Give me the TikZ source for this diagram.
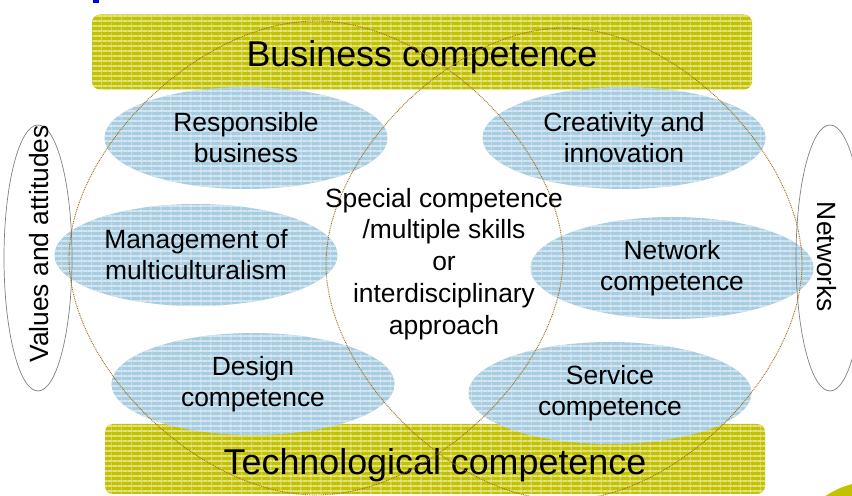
\documentclass[tikz,border=0pt]{standalone}
\usepackage{fontspec}
\setmainfont{Liberation Sans}
\usetikzlibrary{shapes.geometric,patterns.meta}
\definecolor{barolive}{RGB}{194,194,0}
\definecolor{barlight}{RGB}{226,226,130}
\definecolor{skillblue}{RGB}{168,204,224}
\definecolor{skilllight}{RGB}{212,230,241}
\definecolor{venngold}{RGB}{160,110,20}
\definecolor{titleblue}{RGB}{0,0,230}
\begin{document}
\begin{tikzpicture}[line join=bevel,
  bar/.style={rectangle,rounded corners=8bp,fill=barolive,minimum width=660bp,inner sep=0pt,
    postaction={pattern={Lines[angle=0,distance=5bp,line width=1.2bp]},pattern color=barlight},
    postaction={pattern={Lines[angle=90,distance=10bp,line width=0.6bp]},pattern color=barlight},
    font=\fontsize{36}{40}\selectfont,text height=30bp,text depth=0pt},
  skill/.style={ellipse,fill=skillblue,minimum width=283bp,minimum height=102bp,inner sep=0pt,align=center,
    postaction={pattern={Lines[angle=0,distance=5bp,line width=1.2bp]},pattern color=skilllight},
    postaction={pattern={Lines[angle=90,distance=10bp,line width=0.6bp]},pattern color=skilllight},
    font=\fontsize{26.5}{31}\selectfont},
  side/.style={ellipse,draw=gray,line width=0.7bp,minimum width=68bp,minimum height=266bp,inner sep=0pt},
  label_txt/.style={inner sep=0pt,align=center,font=\fontsize{26.5}{32}\selectfont},
  venn/.style={draw=venngold,line width=0.9bp,dash pattern=on 0.9bp off 0.9bp},
]
%%
\useasboundingbox (0bp,0bp) rectangle (852bp,496bp);
\clip (0bp,0bp) rectangle (852bp,496bp);
\fill [titleblue] (93bp,493bp) rectangle (99bp,496bp);
\fill [barolive] (875bp,-74bp) circle (89bp);
  \node (business) at (422bp,444bp) [bar,minimum height=75bp] {Business competence};
  \node (technology) at (435bp,37bp) [bar,minimum height=70bp] {Technological competence};
  \node (responsible) at (246bp,358bp) [skill] {Responsible\\business};
  \node (creativity) at (624bp,358bp) [skill] {Creativity and\\innovation};
  \node (multicultural) at (196bp,241bp) [skill] {Management of\\multiculturalism};
  \node (network) at (672bp,228bp) [skill] {Network\\competence};
  \node (design) at (253bp,112bp) [skill] {Design\\competence};
  \node (service) at (610bp,103bp) [skill] {Service\\competence};
  \node (values) at (38bp,238bp) [side] {};
  \node (networks) at (830bp,238bp) [side] {};
  \node (values_txt) at (39bp,252bp) [label_txt,rotate=90] {Values and attitudes};
  \node (networks_txt) at (827bp,239bp) [label_txt,rotate=-90] {Networks};
%
  \draw [venn] (563bp,238bp) .. controls (563bp,347bp) and (432bp,475bp) .. (316bp,475bp)
    .. controls (200bp,475bp) and (69bp,347bp) .. (69bp,238bp)
    .. controls (69bp,129bp) and (200bp,1bp) .. (316bp,1bp)
    .. controls (432bp,1bp) and (563bp,129bp) .. (563bp,238bp);
  \draw [venn] (802bp,232bp) .. controls (802bp,340bp) and (676bp,468bp) .. (564bp,468bp)
    .. controls (452bp,468bp) and (326bp,340bp) .. (326bp,232bp)
    .. controls (326bp,124bp) and (452bp,-4bp) .. (564bp,-4bp)
    .. controls (676bp,-4bp) and (802bp,124bp) .. (802bp,232bp);
  \node (special) at (444bp,232bp) [label_txt] {Special competence\\/multiple skills\\or\\interdisciplinary\\approach};
%
\end{tikzpicture}
\end{document}
